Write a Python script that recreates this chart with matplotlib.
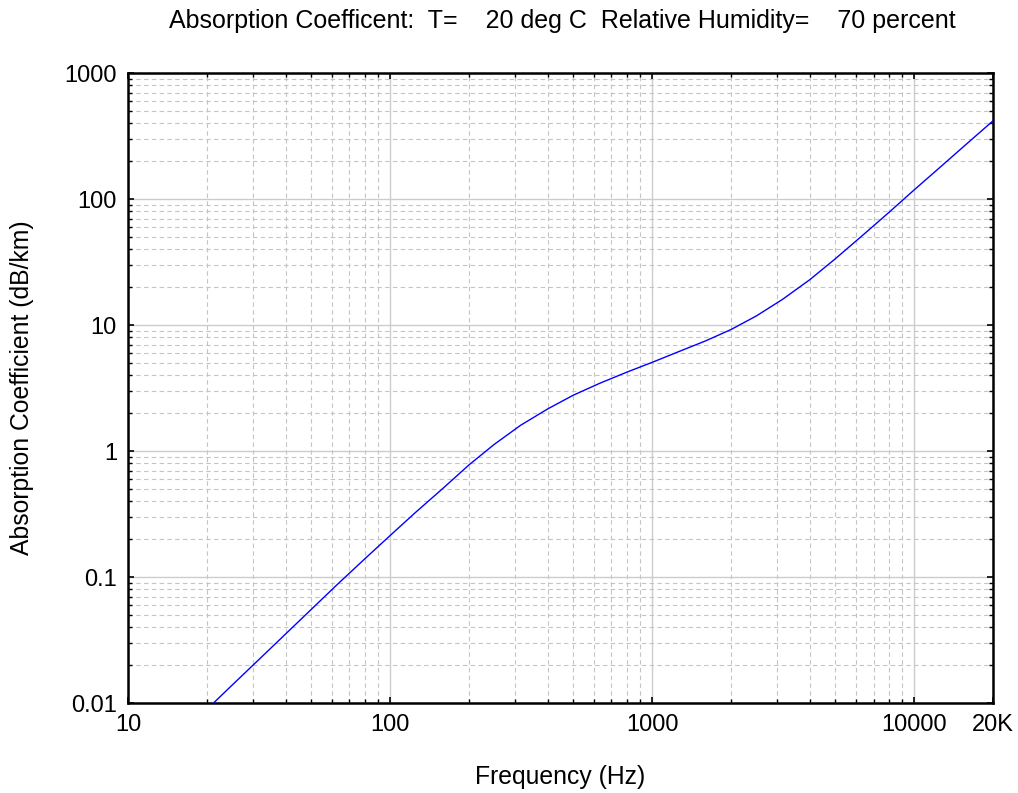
import numpy as np
import matplotlib
matplotlib.use("Agg")
import matplotlib.pyplot as plt
from matplotlib.ticker import FixedLocator, FixedFormatter, LogLocator, NullFormatter

# one-third octave band centres (Hz) and absorption (dB/km)
freq_hz = [20, 25, 31.5, 40, 50, 63, 80, 100, 125, 160, 200, 250, 315, 400,
           500, 630, 800, 1000, 1250, 1600, 2000, 2500, 3150, 4000, 5000,
           6300, 8000, 10000, 12500, 16000, 20000]
alpha_db_km = [0.0089, 0.0139, 0.0220, 0.0354, 0.0552, 0.0875, 0.139, 0.213,
               0.325, 0.51, 0.775, 1.13, 1.60, 2.16, 2.77, 3.44, 4.22, 5.05,
               6.09, 7.48, 9.2, 11.8, 16.0, 22.9, 33.5, 50.6, 78.0, 118.0,
               177, 278, 417]

x_ticks = [10, 100, 1000, 10000, 20000]
x_tick_labels = ["10", "100", "1000", "10000", "20K"]
y_ticks = [0.01, 0.1, 1, 10, 100, 1000]
y_tick_labels = ["0.01", "0.1", "1", "10", "100", "1000"]

title = "Absorption Coefficent:  T=    20 deg C  Relative Humidity=    70 percent"

plt.rcParams['font.family'] = ['Liberation Sans', 'DejaVu Sans']

fig = plt.figure(figsize=(10.18, 7.93), dpi=100)
ax = fig.add_axes([128 / 1018, 90 / 793, 865 / 1018, 630 / 793])

ax.plot(freq_hz, alpha_db_km, color="#0000ff", linewidth=1.0, zorder=3)

ax.set_xscale("log")
ax.set_yscale("log")
ax.set_xlim(10, 20000)
ax.set_ylim(0.01, 1000)

ax.xaxis.set_major_locator(FixedLocator(x_ticks))
ax.xaxis.set_major_formatter(FixedFormatter(x_tick_labels))
ax.yaxis.set_major_locator(FixedLocator(y_ticks))
ax.yaxis.set_major_formatter(FixedFormatter(y_tick_labels))
for axis in (ax.xaxis, ax.yaxis):
    axis.set_minor_locator(LogLocator(base=10, subs=np.arange(2, 10), numticks=20))
    axis.set_minor_formatter(NullFormatter())

ax.grid(True, which="major", color="#cccccc", linestyle="-", linewidth=1.0)
ax.grid(True, which="minor", color="#c4c4c4", linestyle=(0, (4, 3)), linewidth=0.8)
ax.set_axisbelow(True)

ax.tick_params(which="both", direction="in", top=True, right=True,
               labelsize=17, color="black")
ax.tick_params(which="major", length=4, width=1.2, pad=8)
ax.tick_params(which="minor", length=3, width=1.0)
for spine in ax.spines.values():
    spine.set_linewidth(1.8)

ax.set_xlabel("Frequency (Hz)", fontsize=17.8, labelpad=21)
ax.set_ylabel("Absorption Coefficient (dB/km)", fontsize=17.8, labelpad=22)
fig.text(0.5526, 0.973, title, fontsize=18, ha="center", va="center")

fig.savefig("out.png", dpi=100)
